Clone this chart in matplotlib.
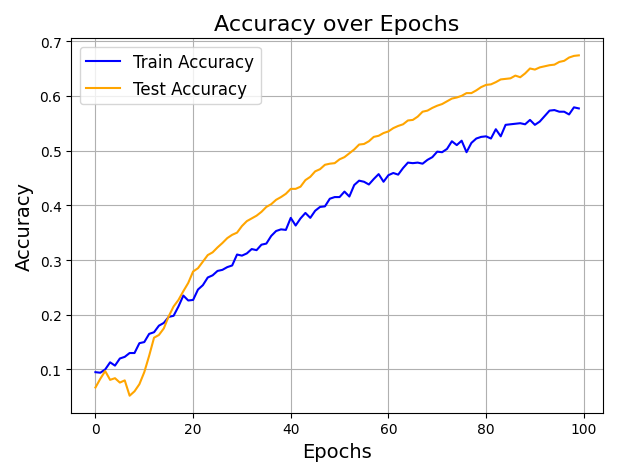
import matplotlib
matplotlib.use("Agg")
import matplotlib.pyplot as plt
import numpy as np

train_acc = [0.095, 0.094, 0.100, 0.113, 0.107, 0.120, 0.123, 0.130, 0.130, 0.148,
             0.150, 0.165, 0.168, 0.180, 0.185, 0.196, 0.198, 0.215, 0.235, 0.226,
             0.227, 0.246, 0.254, 0.268, 0.272, 0.280, 0.282, 0.287, 0.290, 0.310,
             0.308, 0.312, 0.320, 0.318, 0.328, 0.330, 0.344, 0.353, 0.356, 0.355,
             0.377, 0.363, 0.376, 0.386, 0.377, 0.390, 0.397, 0.398, 0.412, 0.415,
             0.415, 0.425, 0.416, 0.437, 0.445, 0.443, 0.438, 0.448, 0.457, 0.443,
             0.455, 0.459, 0.456, 0.468, 0.478, 0.477, 0.478, 0.476, 0.483, 0.488,
             0.498, 0.497, 0.503, 0.517, 0.510, 0.518, 0.497, 0.514, 0.522, 0.525,
             0.526, 0.522, 0.539, 0.526, 0.547, 0.548, 0.549, 0.550, 0.548, 0.556,
             0.547, 0.553, 0.563, 0.573, 0.574, 0.571, 0.571, 0.566, 0.579, 0.577]
test_acc = [0.067, 0.083, 0.097, 0.081, 0.084, 0.076, 0.080, 0.052, 0.060, 0.073,
            0.095, 0.125, 0.158, 0.163, 0.175, 0.197, 0.215, 0.227, 0.243, 0.258,
            0.279, 0.285, 0.297, 0.309, 0.314, 0.323, 0.331, 0.340, 0.346, 0.350,
            0.362, 0.371, 0.376, 0.381, 0.388, 0.397, 0.402, 0.410, 0.415, 0.421,
            0.430, 0.430, 0.434, 0.446, 0.452, 0.462, 0.466, 0.474, 0.476, 0.477,
            0.484, 0.488, 0.495, 0.502, 0.511, 0.512, 0.517, 0.525, 0.527, 0.532,
            0.535, 0.541, 0.545, 0.548, 0.555, 0.556, 0.562, 0.571, 0.573, 0.578,
            0.582, 0.585, 0.590, 0.595, 0.597, 0.600, 0.605, 0.605, 0.610, 0.616,
            0.620, 0.621, 0.625, 0.630, 0.631, 0.632, 0.637, 0.634, 0.641, 0.650,
            0.648, 0.652, 0.654, 0.656, 0.657, 0.662, 0.664, 0.670, 0.673, 0.674]

epochs = np.arange(len(train_acc))

fig, ax = plt.subplots(figsize=(6.18, 4.77), dpi=100)
ax.plot(epochs, train_acc, label="Train Accuracy", color="blue", linewidth=1.5)
ax.plot(epochs, test_acc, label="Test Accuracy", color="orange", linewidth=1.5)
ax.set_xlabel("Epochs", fontsize=14)
ax.set_ylabel("Accuracy", fontsize=14)
ax.set_title("Accuracy over Epochs", fontsize=16)
ax.legend(fontsize=12)
ax.grid(True)

fig.tight_layout()
fig.savefig("out.png", dpi=100)
